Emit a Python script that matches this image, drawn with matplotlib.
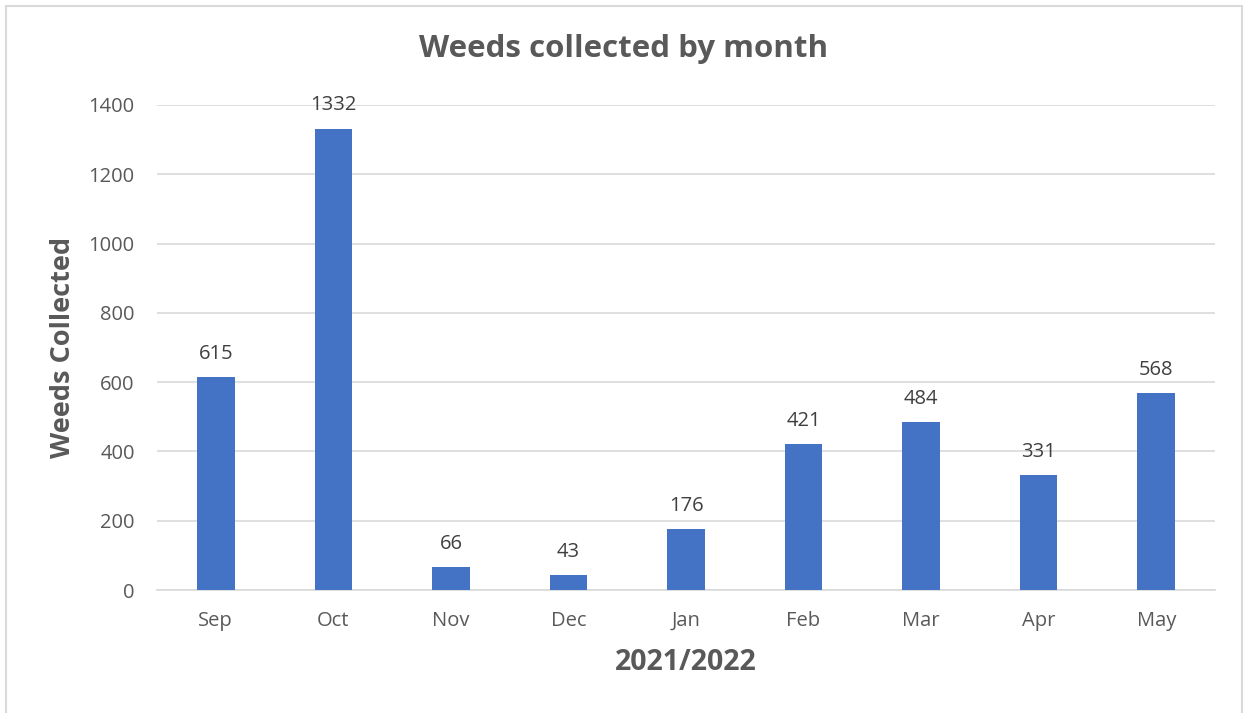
import matplotlib
matplotlib.use("Agg")
import matplotlib.pyplot as plt
from matplotlib.patches import Rectangle

# --- Data
months = ["Sep", "Oct", "Nov", "Dec", "Jan", "Feb", "Mar", "Apr", "May"]
weeds = [615, 1332, 66, 43, 176, 421, 484, 331, 568]
y_ticks = [0, 200, 400, 600, 800, 1000, 1200, 1400]

text_color = "#595959"
grid_color = "#D9D9D9"
bar_color = "#4472C4"

plt.rcParams["font.family"] = ["Open Sans", "DejaVu Sans"]

fig = plt.figure(figsize=(12.43, 7.13), dpi=100)
ax = fig.add_axes([157 / 1243, 1 - 590 / 713, (1215 - 157) / 1243, (590 - 105) / 713])

x = list(range(len(months)))
bars = ax.bar(x, weeds, width=0.32, color=bar_color, zorder=3)

for xi, v in zip(x, weeds):
    ax.annotate(str(v), (xi, v), xytext=(0, 9.5), textcoords="offset points",
                ha="center", va="bottom", fontsize=14.5, color="#404040")

ax.set_xlim(-0.5, len(months) - 0.5)
ax.set_ylim(0, 1400)
ax.set_yticks(y_ticks)
ax.set_xticks(x)
ax.set_xticklabels(months)
ax.tick_params(axis="both", length=0, labelsize=14.5, colors=text_color)
ax.tick_params(axis="x", pad=15)
ax.tick_params(axis="y", pad=16)
ax.grid(axis="y", color=grid_color, linewidth=1.2, zorder=0)
for s in ["top", "right", "left"]:
    ax.spines[s].set_visible(False)
ax.spines["bottom"].set_color(grid_color)
ax.spines["bottom"].set_linewidth(1.2)

ax.set_xlabel("2021/2022", fontsize=20.5, fontweight="bold", color=text_color, labelpad=12)
ax.set_ylabel("Weeds Collected", fontsize=19.5, fontweight="bold", color=text_color, labelpad=9)
fig.text(624 / 1243, 1 - 49 / 713, "Weeds collected by month", ha="center", va="center",
         fontsize=22.5, fontweight="bold", color=text_color)

# --- Chart border
fig.patches.append(Rectangle((5.5 / 1243, -0.02), 1236 / 1243, 1.02 - 5.5 / 713,
                             transform=fig.transFigure, fill=False,
                             edgecolor=grid_color, linewidth=1.5))

plt.savefig("out.png", dpi=100)
plt.close()
